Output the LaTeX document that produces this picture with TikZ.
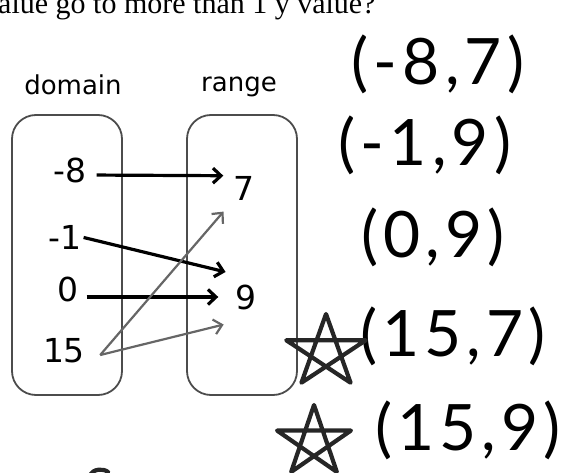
\documentclass[tikz,border=0pt]{standalone}
\usepackage{fontspec}
\setmainfont{Liberation Serif}
\newfontfamily\diagfont{DejaVu Sans}
\newfontfamily\handfont[LetterSpace=8]{Lato}
\usetikzlibrary{arrows.meta}
\begin{document}
\begin{tikzpicture}[x=1pt,y=-1pt,
  setbox/.style={draw=black!70,line width=1.8pt,rounded corners=24pt,minimum width=110pt,minimum height=280pt},
  heading/.style={font=\diagfont\fontsize{26}{30}\selectfont,anchor=base,inner sep=0pt},
  value/.style={font=\diagfont\fontsize{33}{38}\selectfont,inner sep=0pt},
  mapto/.style={-{Straight Barb[length=8pt,width=15pt]},line width=3.2pt},
  faint/.style={-{Straight Barb[length=8pt,width=15pt]},line width=2.2pt,draw=black!60},
  pair/.style={font=\handfont\fontsize{64}{70}\selectfont,inner sep=0pt},
  pen/.style={line width=4.2pt,line join=round,line cap=round,draw=black!85}]
\useasboundingbox (0,0) rectangle (568,473);
\clip (0,0) rectangle (568,473);
\node[anchor=base west,inner sep=0pt,font=\fontsize{30}{36}\selectfont] (question) at (-17,14) {value go to more than 1 y value?};
\node[setbox] (domainbox) at (67,255) {};
\node[setbox] (rangebox) at (242,255) {};
\node[heading] (domain) at (73,95) {domain};
\node[heading] (range) at (239,92) {range};
\foreach \name/\val/\x/\y in {d8/-8/70/170,d1/-1/65/237,d0/0/68/289,d15/15/64/351,r7/7/244/188,r9/9/246/297}
  \node[value] (\name) at (\x,\y) {\val};
\draw[mapto,shorten <=10pt,shorten >=10pt] ([yshift=-5pt]d8.east) -- (r7.north west);
\draw[mapto,shorten <=2pt,shorten >=10pt] (d1.east) -- ([yshift=10pt]r9.north west);
\draw[mapto,shorten <=8pt,shorten >=17pt] ([yshift=-8pt]d0.east) -- (r9.west);
\draw[faint,shorten >=15pt] ([shift={(15pt,-4pt)}]d15.east) -- (r7.south west);
\draw[faint,shorten >=12pt] ([shift={(15pt,-4pt)}]d15.east) -- ([yshift=-12pt]r9.south west);
\foreach \name/\txt/\x/\y in {p1/{(-8,7)}/438/64,p2/{(-1,9)}/425/145,p3/{(0,9)}/433/237,p4/{(15,7)}/453/336,p5/{(15,9)}/468/430}
  \node[pair] (\name) at (\x,\y) {\txt};
\begin{scope}[shift={(326,352)},xscale=1.1]
  \draw[pen] (270:38) -- (54:38) -- (198:38) -- (342:38) -- (126:38) -- cycle;
\end{scope}
\begin{scope}[shift={(314,442)},xscale=1.05]
  \draw[pen] (270:37) -- (54:37) -- (198:37) -- (342:37) -- (126:37) -- cycle;
\end{scope}
\draw[pen] (90,475) .. controls (93,469) and (103,468) .. (108,472);
\end{tikzpicture}
\end{document}
